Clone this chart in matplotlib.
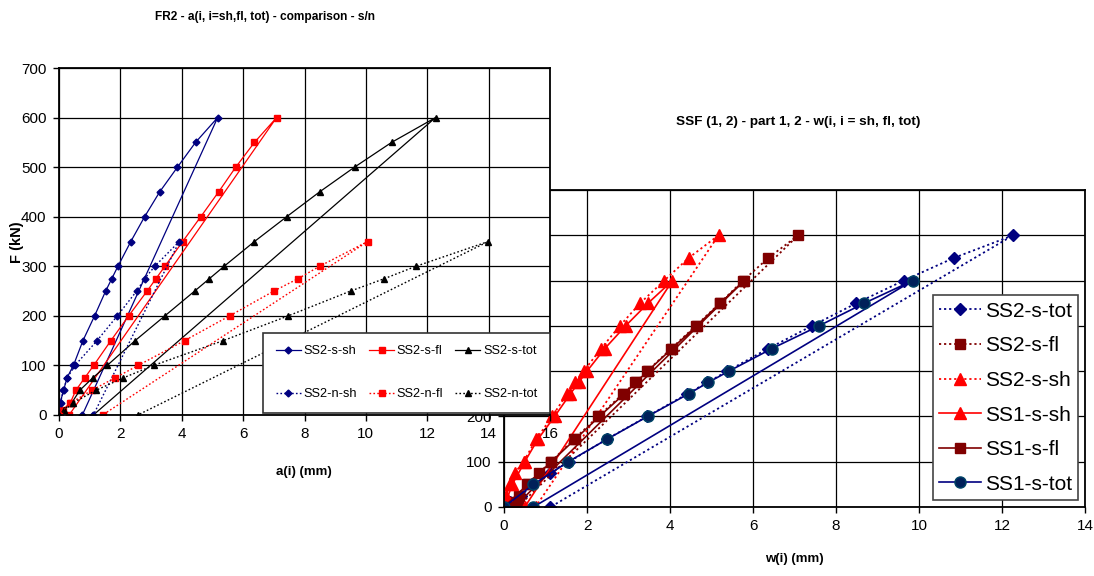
import numpy as np
import matplotlib
matplotlib.use('Agg')
from matplotlib import pyplot as plt

plt.rcParams['font.family'] = ['Liberation Sans', 'DejaVu Sans']

# --- FR2: a(i) ---
F_s = [0, 10, 25, 50, 75, 100, 150, 200, 250, 275, 300, 350, 400, 450, 500, 550, 600, 0]
a_ss2_s_sh = [0, 0.02, 0.04, 0.15, 0.26, 0.47, 0.78, 1.16, 1.52, 1.72, 1.92, 2.34, 2.79, 3.28, 3.86, 4.45, 5.17, 0.76]
a_ss2_s_fl = [0, 0.12, 0.37, 0.55, 0.84, 1.13, 1.69, 2.27, 2.87, 3.16, 3.45, 4.03, 4.62, 5.20, 5.76, 6.37, 7.09, 0.33]
a_ss2_s_tot = [0, 0.15, 0.42, 0.68, 1.10, 1.57, 2.48, 3.45, 4.42, 4.90, 5.38, 6.37, 7.42, 8.49, 9.63, 10.84, 12.27, 1.12]

F_n = [0, 25, 50, 75, 100, 150, 200, 250, 275, 300, 350, 0]
a_ss2_n_sh = [0, 0.05, 0.14, 0.27, 0.52, 1.24, 1.90, 2.53, 2.79, 3.12, 3.92, 1.12]
a_ss2_n_fl = [0, 0.40, 1.07, 1.83, 2.58, 4.09, 5.56, 7.00, 7.79, 8.49, 10.06, 1.42]
a_ss2_n_tot = [0, 0.47, 1.21, 2.10, 3.08, 5.35, 7.47, 9.50, 10.60, 11.63, 13.99, 2.57]

# --- SSF (1, 2): w(i) ---
F_ss1 = [0, 50, 100, 150, 200, 250, 275, 300, 350, 400, 450, 500, 0]
w_ss1_s_sh = [0, 0.20, 0.50, 0.82, 1.22, 1.60, 1.80, 2.00, 2.43, 2.93, 3.47, 4.06, 0.50]
w_ss1_s_fl = [0, 0.57, 1.14, 1.72, 2.30, 2.90, 3.18, 3.46, 4.05, 4.64, 5.21, 5.79, 0.25]
w_ss1_s_tot = [0, 0.71, 1.55, 2.49, 3.46, 4.45, 4.92, 5.42, 6.46, 7.59, 8.68, 9.85, 0.71]

W, H = 1094, 576
fig = plt.figure(figsize=(W / 100, H / 100), dpi=100)


def box(l, t, r, b):
    return [l / W, 1 - b / H, (r - l) / W, (b - t) / H]


def style_ax(ax, xmax, tick_fs):
    ax.set_ylim(0, 700)
    ax.set_xlim(0, xmax)
    ax.set_xticks(np.arange(0, xmax + 1, 2))
    ax.set_yticks(np.arange(0, 701, 100))
    ax.grid(True, color='black', lw=0.9)
    ax.set_axisbelow(True)
    ax.tick_params(direction='out', length=4, width=1, labelsize=tick_fs, colors='black', pad=5)
    for s in ax.spines.values():
        s.set_linewidth(1.3)
        s.set_color('black')


navy = '#000080'
dred = '#800000'
red = '#ff0000'
dots = (0, (1.2, 1.6))

# chart 2 (underneath)
ax2 = fig.add_axes(box(504, 190, 1085, 507))
ax2.set_zorder(1)
style_ax(ax2, 14, 11)
ax2.plot(a_ss2_s_tot, F_s, ls=dots, color=navy, lw=1.3, marker='D', ms=6.5, label='SS2-s-tot')
ax2.plot(a_ss2_s_fl, F_s, ls=dots, color=dred, lw=1.3, marker='s', ms=7.5, label='SS2-s-fl')
ax2.plot(a_ss2_s_sh, F_s, ls=dots, color=red, lw=1.3, marker='^', ms=9, label='SS2-s-sh')
ax2.plot(w_ss1_s_sh, F_ss1, ls='-', color=red, lw=1.2, marker='^', ms=9, label='SS1-s-sh')
ax2.plot(w_ss1_s_fl, F_ss1, ls='-', color=dred, lw=1.2, marker='s', ms=7.5, label='SS1-s-fl')
ax2.plot(w_ss1_s_tot, F_ss1, ls='-', color=navy, lw=1.2, marker='o', ms=8,
         mfc='#00205a', mec='#004466', label='SS1-s-tot')
leg2 = ax2.legend(loc='lower left', bbox_to_anchor=(0.738, 0.022), fontsize=15,
                  frameon=True, fancybox=False, edgecolor='#444444', framealpha=1,
                  handlelength=2.0, labelspacing=0.75, borderpad=0.3, handletextpad=0.2,
                  borderaxespad=0)
leg2.get_frame().set_linewidth(1.2)

# chart 1 (on top)
ax1 = fig.add_axes(box(59, 68, 550, 415))
ax1.set_zorder(2)
ax1.set_facecolor('white')
style_ax(ax1, 16, 11)
l1 = ax1.plot(a_ss2_s_sh, F_s, '-', color=navy, lw=0.9, marker='D', ms=3.5, label='SS2-s-sh')
l2 = ax1.plot(a_ss2_s_fl, F_s, '-', color=red, lw=0.9, marker='s', ms=4.5, label='SS2-s-fl')
l3 = ax1.plot(a_ss2_s_tot, F_s, '-', color='black', lw=0.9, marker='^', ms=5, label='SS2-s-tot')
l4 = ax1.plot(a_ss2_n_sh, F_n, ls=dots, color=navy, lw=1.0, marker='D', ms=3.5, label='SS2-n-sh')
l5 = ax1.plot(a_ss2_n_fl, F_n, ls=dots, color=red, lw=1.0, marker='s', ms=4.5, label='SS2-n-fl')
l6 = ax1.plot(a_ss2_n_tot, F_n, ls=dots, color='black', lw=1.0, marker='^', ms=5, label='SS2-n-tot')
handles = [l1[0], l4[0], l2[0], l5[0], l3[0], l6[0]]
leg1 = ax1.legend(handles=handles, ncol=3, loc='lower right', bbox_to_anchor=(1.0, 0.006),
                  fontsize=9.2, frameon=True, fancybox=False, edgecolor='#333333', framealpha=1,
                  handlelength=2.0, labelspacing=2.4, columnspacing=0.9, borderpad=1.0,
                  handletextpad=0.2, borderaxespad=0)
leg1.get_frame().set_linewidth(1.2)

# titles and axis labels
fig.text(265 / W, 1 - 17 / H, 'FR2 - a(i, i=sh,fl, tot) - comparison - s/n',
         ha='center', va='center', fontsize=8.6, fontweight='bold')
fig.text(798 / W, 1 - 122 / H, 'SSF (1, 2) - part 1, 2 - w(i, i = sh, fl, tot)',
         ha='center', va='center', fontsize=9.7, fontweight='bold')
fig.text(304 / W, 1 - 472 / H, 'a(i) (mm)', ha='center', va='center', fontsize=9.5, fontweight='bold')
fig.text(794 / W, 1 - 559 / H, 'w(i) (mm)', ha='center', va='center', fontsize=9.5, fontweight='bold')
fig.text(17 / W, 1 - 242 / H, 'F (kN)', ha='center', va='center', rotation=90,
         fontsize=10.5, fontweight='bold')

fig.savefig('out.png', dpi=100)
